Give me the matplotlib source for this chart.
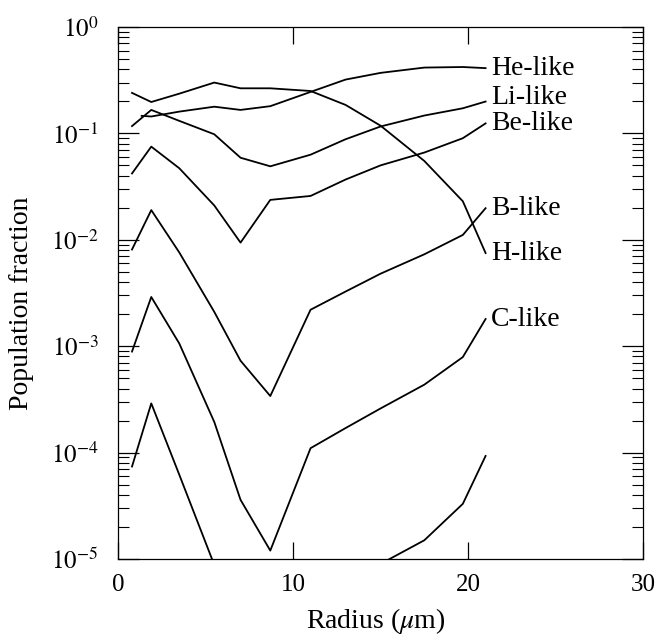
import matplotlib
matplotlib.use("Agg")
import matplotlib.pyplot as plt
import numpy as np

# radius grid (um) shared by most curves
RADIUS = [0.8, 1.9, 3.5, 5.5, 7.0, 8.7, 11.0, 13.0, 15.0, 17.5, 19.7, 21.0]

H_LIKE = [0.24, 0.197, 0.236, 0.30, 0.265, 0.265, 0.25, 0.185, 0.118, 0.055, 0.023, 0.0075]
HE_RADIUS = [1.35, 1.9, 3.5, 5.5, 7.0, 8.7, 11.0, 13.0, 15.0, 17.5, 19.7, 21.0]
HE_LIKE = [0.146, 0.144, 0.16, 0.178, 0.166, 0.18, 0.245, 0.32, 0.37, 0.415, 0.42, 0.41]
LI_LIKE = [0.117, 0.166, 0.131, 0.098, 0.059, 0.049, 0.063, 0.088, 0.116, 0.147, 0.172, 0.199]
BE_LIKE = [0.042, 0.075, 0.047, 0.021, 0.0094, 0.0237, 0.0258, 0.0368, 0.050, 0.066, 0.090, 0.124]
B_LIKE = [0.0081, 0.019, 0.0076, 0.0021, 7.3e-4, 3.4e-4, 2.2e-3, 3.26e-3, 4.8e-3, 7.3e-3, 0.0111, 0.0198]
C_LIKE = [8.9e-4, 2.9e-3, 1.06e-3, 1.94e-4, 3.6e-5, 1.2e-5, 1.1e-4, 1.7e-4, 2.6e-4, 4.35e-4, 7.9e-4, 1.8e-3]
N_LIKE = [7.4e-5, 2.9e-4, 6.2e-5, 8.8e-6, 2e-6, 1e-6, 1.5e-6, 4e-6, 9e-6, 1.5e-5, 3.3e-5, 9.3e-5]

SERIES = [
    ("H-like", RADIUS, H_LIKE),
    ("He-like", HE_RADIUS, HE_LIKE),
    ("Li-like", RADIUS, LI_LIKE),
    ("Be-like", RADIUS, BE_LIKE),
    ("B-like", RADIUS, B_LIKE),
    ("C-like", RADIUS, C_LIKE),
    ("", RADIUS, N_LIKE),
]

plt.rcParams["font.family"] = ["Liberation Serif", "DejaVu Serif"]
plt.rcParams["mathtext.fontset"] = "stix"

fig = plt.figure(figsize=(6.63, 6.38), dpi=100)
ax = fig.add_axes([0.178, 0.1238, 0.792, 0.834])

label_dy = {"Li-like": 3}
for name, xs, ys in SERIES:
    ax.plot(xs, ys, color="black", linewidth=1.3)
    if name:
        ax.annotate(name, (xs[-1], ys[-1]), xytext=(4, label_dy.get(name, 0)),
                    textcoords="offset points", va="center", ha="left",
                    fontsize=20, annotation_clip=False)

ax.set_yscale("log")
ax.set_xlim(0, 30)
ax.set_ylim(1e-5, 1)
ax.set_xticks([0, 10, 20, 30])
ax.set_yticks([10.0 ** k for k in range(-5, 1)])
ax.set_yticklabels([f"$10^{{{k}}}$" for k in range(-5, 1)])

ax.tick_params(axis="both", which="major", direction="in", top=True, right=True,
               labelsize=18, width=0.9)
ax.tick_params(axis="x", which="major", length=12, pad=11)
ax.tick_params(axis="y", which="major", length=15, pad=14)
ax.tick_params(axis="y", which="minor", direction="in", right=True, length=8, width=0.8)
ax.tick_params(axis="x", which="minor", bottom=False, top=False)

for s in ax.spines.values():
    s.set_linewidth(0.9)

ax.set_xlabel(r"Radius ($\mu$m)", fontsize=20)
ax.set_ylabel("Population fraction", fontsize=20)
ax.xaxis.set_label_coords(0.49, -0.088)
ax.yaxis.set_label_coords(-0.16, 0.48)

fig.savefig("out.png", dpi=100)
